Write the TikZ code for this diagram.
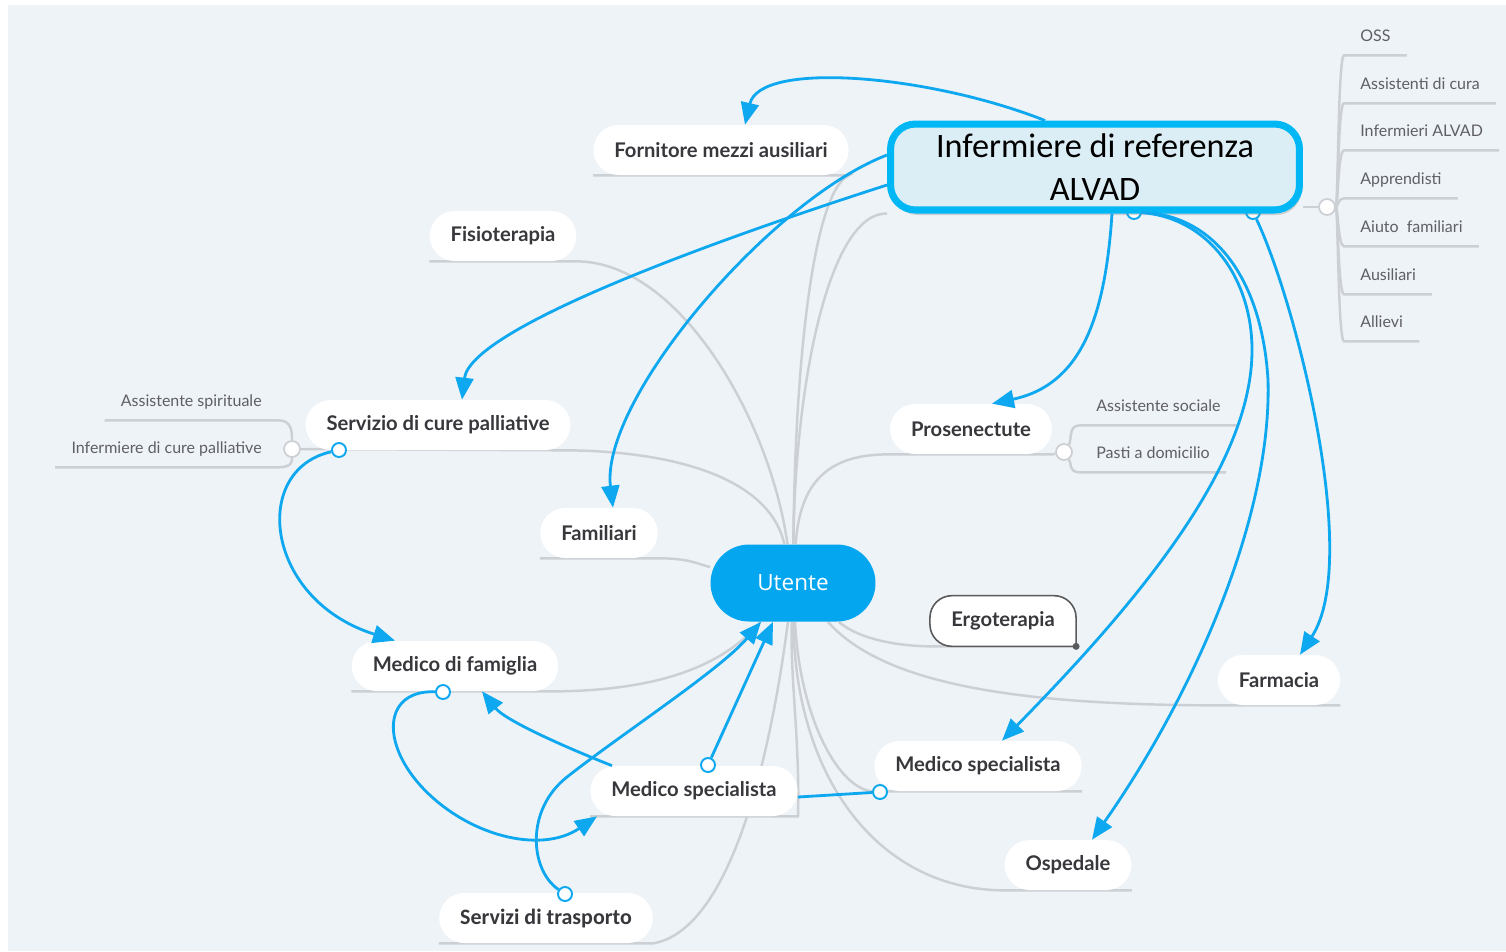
\documentclass[tikz,border=0pt]{standalone}
\usepackage{fontspec}
\setmainfont{Lato}
\newfontfamily\carlito{Carlito}
\newfontfamily\opensans{Open Sans}
\usetikzlibrary{arrows.meta, calc, shadows}

\definecolor{paper}{RGB}{238,243,247}
\definecolor{skyblue}{RGB}{14,168,240}
\definecolor{rootblue}{RGB}{5,166,240}
\definecolor{frameblue}{RGB}{0,183,245}
\definecolor{framefill}{RGB}{220,238,245}
\definecolor{branch}{RGB}{204,208,212}
\definecolor{ink}{RGB}{55,55,60}
\definecolor{softink}{RGB}{95,95,100}
\definecolor{ergoink}{RGB}{90,90,90}

\pgfdeclarelayer{back}
\pgfdeclarelayer{lines}
\pgfsetlayers{back,lines,main}

\begin{document}
\begin{tikzpicture}[x=0.02cm, y=-0.02cm,
    topic/.style={fill=white, rounded corners=0.5cm, minimum height=1cm,
      inner xsep=0.42cm, text=ink, font=\fontsize{11.5}{13}\selectfont\bfseries},
    leaf/.style={inner xsep=0.32cm, inner ysep=0.28cm, text depth=0pt,
      text=softink, font=\fontsize{9.1}{11}\selectfont},
    root/.style={fill=rootblue, rounded corners=0.77cm, minimum width=3.3cm,
      minimum height=1.54cm, text=white, font=\opensans\fontsize{12.8}{15}\selectfont},
    refbox/.style={draw=frameblue, line width=4pt, fill=framefill,
      rounded corners=0.5cm, minimum width=8.18cm, minimum height=1.72cm,
      align=center, font=\carlito\fontsize{19.5}{24.4}\selectfont,
      drop shadow={shadow xshift=0.04cm, shadow yshift=-0.1cm, opacity=0.3}},
    ergoframe/.style={draw=ergoink, line width=0.9pt, fill=white, rounded corners=0.44cm},
    branchline/.style={draw=branch, line width=1.4pt},
    hub/.style={circle, draw=branch, fill=white, line width=1pt,
      minimum size=0.32cm, inner sep=0pt},
    handle/.style={circle, draw=skyblue, fill=white, line width=1.1pt,
      minimum size=0.28cm, inner sep=0pt},
    link/.style={draw=skyblue, line width=1.6pt},
    rel/.style={link, -{Triangle[length=0.44cm, width=0.36cm]}},
  ]

  \useasboundingbox (0,0) rectangle (1506,951);
  \begin{pgfonlayer}{back}
    \fill[white] (0,0) rectangle (1506,951);
    \fill[paper] (8,5) rectangle (1506,951);
  \end{pgfonlayer}

  % central topic
  \node[root] (utente) at (793,583) {Utente};

  % main topics
  \node[topic] (forn) at (721,150) {Fornitore mezzi ausiliari};
  \node[topic] (fis) at (503,236) {Fisioterapia};
  \node[topic] (serv) at (438,425) {Servizio di cure palliative};
  \node[topic] (fam) at (599,533) {Familiari};
  \node[topic] (medF) at (455,666) {Medico di famiglia};
  \node[topic] (medS) at (694,791) {Medico specialista};
  \node[topic, font=\carlito\bfseries\fontsize{12.5}{14}\selectfont] (trasp) at (546,918) {Servizi di trasporto};
  \node[topic] (pros) at (971,429) {Prosenectute};
  \node[topic, fill=none] (ergo) at (1003,621) {Ergoterapia};
  \node[topic] (farm) at (1279,680) {Farmacia};
  \node[topic] (medR) at (978,766) {Medico specialista};
  \node[topic] (osp) at (1068,865) {Ospedale};

  % subtopics
  \node[leaf, anchor=base east] (aspir) at (278,406) {Assistente spirituale};
  \node[leaf, anchor=base east] (icp) at (278,453) {Infermiere di cure palliative};
  \node[leaf, anchor=base west] (asoc) at (1080,411) {Assistente sociale};
  \node[leaf, anchor=base west] (pasti) at (1080,458) {Pasti a domicilio};

  \node[hub] (hubS) at (292,449) {};
  \node[hub] (hubP) at (1064,452) {};
  \node[hub] (hubA) at (1327,207) {};

  % relation handles
  \node[handle] (hS) at (339,450) {};
  \node[handle] (hF) at (443,692) {};
  \node[handle] (hM) at (708,765) {};
  \node[handle] (hT) at (565,894) {};
  \node[handle] (hR) at (880,792) {};
  \node[handle] (hA1) at (1134,212) {};
  \node[handle] (hA2) at (1253,212) {};

  \node[refbox] (alvad) at (1095,167) {Infermiere di referenza\\ALVAD};

  % staff list of the reference nurse
  \foreach \nm/\yy/\txt in {oss/41/OSS, cura/89/Assistenti di cura,
      infa/136/Infermieri ALVAD, appr/184/Apprendisti,
      aiuto/232/{Aiuto\ \ familiari}, aus/280/Ausiliari, allv/327/Allievi}
  {
    \node[leaf, anchor=base west] (\nm) at (1344,\yy) {\txt};
    \begin{pgfonlayer}{lines}
      \draw[branchline] (hubA) .. controls (1338,207) and (1338,{\yy+14}) .. (\nm.south west) -- (\nm.south east);
    \end{pgfonlayer}
  }

  \begin{pgfonlayer}{lines}
    % branches above the patient
    \draw[branchline] (forn.south west) -- (forn.south east) .. controls (815,190) and (795,350) .. (utente);
    \draw[branchline] (fis.south west) -- (fis.south east) .. controls (680,262) and (770,420) .. (utente);
    \draw[branchline] (hubS) -- (serv.south east) .. controls (680,452) and (770,480) .. (utente);
    \draw[branchline] (fam.south west) -- (fam.south east) .. controls (690,558) and (700,565) .. (utente);
    \draw[branchline] (utente) .. controls (795,380) and (830,212) .. (alvad.south west);
    \draw[branchline] (alvad.east |- hubA) -- (hubA);
    \draw[branchline] (utente) .. controls (800,480) and (830,454) .. (pros.south west) -- (pros.south east) -- (hubP);

    % branches below the patient
    \draw[branchline] (medF.south west) -- (medF.south east) .. controls (650,690) and (720,670) .. (utente);
    \draw[branchline] (medS.south west) -- (medS.south east) .. controls (800,740) and (790,680) .. (utente);
    \draw[branchline] (trasp.south west) -- (trasp.south east) .. controls (730,930) and (770,760) .. (utente);
    \draw[branchline] (utente) .. controls (860,640) and (900,646) .. (ergo.south west) -- (ergo.south east);
    \draw[branchline] (utente) .. controls (880,680) and (1000,705) .. (farm.south west) -- (farm.south east);
    \draw[branchline] (utente) .. controls (800,720) and (840,791) .. (medR.south west) -- (medR.south east);
    \draw[branchline] (utente) .. controls (795,780) and (880,890) .. (osp.south west) -- (osp.south east);

    % subtopic branches
    \draw[branchline] (aspir.south west) -- (aspir.south east) .. controls (292,420) and (292,432) .. (hubS);
    \draw[branchline] (icp.south west) -- (icp.south east) .. controls (292,467) and (292,462) .. (hubS);
    \draw[branchline] (hubP) .. controls (1072,440) and (1068,425) .. (asoc.south west) -- (asoc.south east);
    \draw[branchline] (hubP) .. controls (1072,464) and (1068,472) .. (pasti.south west) -- (pasti.south east);

    % selected topic frame
    \draw[ergoframe] (ergo.south east) -- (ergo.south west) -- (ergo.north west) -- (ergo.north east) -- (ergo.south east);
    \fill[ergoink] (ergo.south east) circle[radius=0.07cm];
  \end{pgfonlayer}

  % relations of the reference nurse
  \draw[rel] ($(alvad.north)+(-50,0)$) .. controls (930,75) and (760,60) .. ($(forn.north)+(24,0)$);
  \draw[rel] ($(alvad.west)+(0,-12)$) .. controls (770,200) and (600,400) .. ($(fam.north)+(14,0)$);
  \draw[rel] ($(alvad.west)+(0,18)$) .. controls (700,245) and (470,330) .. ($(serv.north)+(24,0)$);
  \draw[rel] ($(alvad.south)+(17,0)$) .. controls (1105,320) and (1080,385) .. ($(pros.north)+(21,0)$);
  \draw[rel] (hA1) .. controls (1210,218) and (1252,280) .. (1252,350)
    .. controls (1252,460) and (1150,590) .. ($(medR.north)+(24,0)$);
  \draw[rel] (hA1) .. controls (1215,215) and (1262,280) .. (1268,380)
    .. controls (1272,520) and (1190,700) .. ($(osp.north)+(24,0)$);
  \draw[rel] (hA2) .. controls (1295,300) and (1362,560) .. ($(farm.north)+(21,0)$);

  % relations around the patient
  \draw[rel] (hS) .. controls (250,470) and (265,600) .. ($(medF.north)+(-60,0)$);
  \draw[rel] (hF) .. controls (385,690) and (380,740) .. (420,785)
    .. controls (465,835) and (540,855) .. ($(medS.south west)+(7,0)$);
  \draw[rel] ($(medS.north west)+(22,0)$) .. controls (560,745) and (505,720) .. ($(medF.south)+(27,0)$);
  \draw[rel] (hT) .. controls (530,870) and (525,810) .. (567,777)
    .. controls (620,735) and (720,670) .. ($(utente.south)+(-32,0)$);
  \draw[rel] (hM) -- ($(utente.south)+(-20,0)$);
  \draw[link] ($(medS.east)+(0,6)$) -- (hR);
\end{tikzpicture}
\end{document}
